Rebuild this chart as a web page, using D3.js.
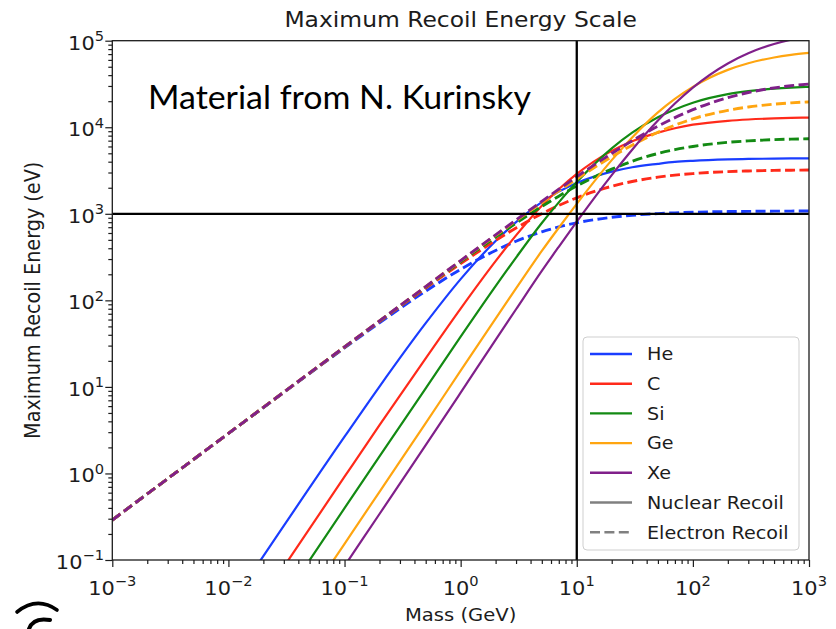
<!DOCTYPE html>
<html>
<head>
<meta charset="utf-8">
<script src="https://cdn.jsdelivr.net/npm/d3@7"></script>
<style>
  body { margin: 0; background: #ffffff; }
  svg { display: block; }
</style>
</head>
<body>
<svg id="chart" width="836" height="629"></svg>
<script>
// Dark-matter mass grid (GeV)
const masses = [0.001, 0.01, 0.1, 0.2, 0.5, 1, 2, 3, 5, 7, 10, 20, 30, 50, 70, 100, 200, 300, 500, 700, 1000];

// Maximum recoil energy (eV): nuclear recoil (solid) and electron recoil (dashed)
const heNuclear  = [2.80e-4, 0.0279, 2.66, 10.1, 54.5, 176, 485, 800, 1362, 1804, 2271, 3071, 3454, 3781, 3974, 4098, 4249, 4301, 4344, 4362, 4376];
const heElectron = [0.29, 2.89, 28.2, 55.0, 127.8, 228.6, 377, 482, 619, 705, 787, 911, 961, 1006, 1026, 1042, 1061, 1067, 1073, 1075, 1077];
const cNuclear   = [9.4e-5, 0.00932, 0.917, 3.61, 21.4, 80.4, 284, 563, 1239, 1923, 2891, 5336, 6883, 8663, 9740, 10702, 11865, 12295, 12656, 12815, 12938];
const cElectron  = [0.29, 2.90, 28.7, 57.0, 138.8, 266, 492, 686, 1002, 1248, 1531, 2080, 2362, 2650, 2796, 2916, 3071, 3126, 3171, 3191, 3206];
const siNuclear  = [4.0e-5, 0.0040, 0.397, 1.575, 9.63, 38.0, 145.8, 312, 783, 1355, 2324, 5699, 8658, 13067, 16058, 19222, 24150, 26120, 27875, 28681, 29310];
const siElectron = [0.29, 2.90, 28.9, 57.6, 142.3, 279, 539, 780, 1217, 1600, 2096, 3283, 4046, 4971, 5510, 5999, 6691, 6958, 7188, 7292, 7371];
const geNuclear  = [1.55e-5, 0.00155, 0.154, 0.614, 3.81, 15.4, 61.6, 137.4, 372, 690, 1302, 4170, 7631, 14884, 21309, 29312, 45992, 54838, 63893, 68474, 72240];
const geElectron = [0.29, 2.90, 29.0, 57.8, 143.9, 286, 563, 833, 1350, 1840, 2526, 4566, 6207, 8752, 10571, 12516, 15678, 17119, 18478, 19129, 19648];
const xeNuclear  = [8.5e-6, 8.5e-4, 0.0852, 0.340, 2.12, 8.58, 34.9, 78.9, 218.9, 415.8, 810.5, 2802, 5505, 11947, 18799, 28709, 54628, 71595, 91585, 102806, 112633];
const xeElectron = [0.29, 2.90, 29.0, 57.9, 144.4, 288, 571, 849, 1393, 1920, 2681, 4985, 6986, 10292, 12911, 15955, 22009, 25196, 28497, 30192, 31602];

const targets = ["He", "C", "Si", "Ge", "Xe"];
const nuclearSeries  = [heNuclear, cNuclear, siNuclear, geNuclear, xeNuclear];
const electronSeries = [heElectron, cElectron, siElectron, geElectron, xeElectron];

// Axis decades and reference lines
const xTickExponents = [-3, -2, -1, 0, 1, 2, 3];
const yTickExponents = [-1, 0, 1, 2, 3, 4, 5];
const referenceMass = 10;      // GeV
const referenceEnergy = 1000;  // eV

const chartTitle = "Maximum Recoil Energy Scale";
const xTitle = "Mass (GeV)";
const yTitle = "Maximum Recoil Energy (eV)";
const overlayNote = "Material from N. Kurinsky";
const legendLabels = ["He", "C", "Si", "Ge", "Xe", "Nuclear Recoil", "Electron Recoil"];

// ---- styling ----
const colors = ["#1a3dff", "#ff2a1a", "#138a13", "#ffa510", "#80208a"];
const textColor = "#1c1c1c";
const FONT = "DejaVu Sans";
const SX = 1.1; // horizontal text stretch

const plot = { left: 112.3, right: 809, top: 40.7, bottom: 560 };

const svg = d3.select("#chart");
svg.append("rect").attr("width", 836).attr("height", 629).attr("fill", "#ffffff");

const x = d3.scaleLog().domain([1e-3, 1e3]).range([plot.left, plot.right]);
const y = d3.scaleLog().domain([1e-1, 1e5]).range([plot.bottom, plot.top]);

function addText(parent, px, py, size, anchor, rotate) {
  return parent.append("text")
    .attr("transform", `translate(${px},${py}) scale(${SX},1)` + (rotate ? ` rotate(${rotate})` : ""))
    .attr("font-family", FONT)
    .attr("font-size", size)
    .attr("text-anchor", anchor)
    .attr("fill", textColor);
}

function powerLabel(t, exp, size) {
  t.append("tspan").text("10");
  t.append("tspan")
    .attr("dy", -size * 0.45)
    .attr("font-size", size * 0.7)
    .text(exp < 0 ? "\u2212" + Math.abs(exp) : String(exp));
}

// clip region for the curves
svg.append("defs").append("clipPath").attr("id", "plotClip")
  .append("rect")
  .attr("x", plot.left).attr("y", plot.top)
  .attr("width", plot.right - plot.left).attr("height", plot.bottom - plot.top);

// ---- curves ----
const line = d3.line()
  .x((d, i) => x(masses[i]))
  .y(d => y(d))
  .curve(d3.curveMonotoneX);

const curves = svg.append("g").attr("clip-path", "url(#plotClip)");
targets.forEach((name, k) => {
  curves.append("path")
    .datum(nuclearSeries[k])
    .attr("d", line)
    .attr("fill", "none")
    .attr("stroke", colors[k])
    .attr("stroke-width", 2.2);
  curves.append("path")
    .datum(electronSeries[k])
    .attr("d", line)
    .attr("fill", "none")
    .attr("stroke", colors[k])
    .attr("stroke-width", 2.9)
    .attr("stroke-dasharray", "10,4.4");
});

// ---- reference lines ----
svg.append("line")
  .attr("x1", plot.left).attr("x2", plot.right)
  .attr("y1", y(referenceEnergy)).attr("y2", y(referenceEnergy))
  .attr("stroke", "#000").attr("stroke-width", 2.3);
svg.append("line")
  .attr("x1", x(referenceMass)).attr("x2", x(referenceMass))
  .attr("y1", plot.top).attr("y2", plot.bottom)
  .attr("stroke", "#000").attr("stroke-width", 2.3);

// ---- axes ----
const xMajor = xTickExponents.map(e => Math.pow(10, e));
const yMajor = yTickExponents.map(e => Math.pow(10, e));
const xMinor = x.ticks().filter(v => !xMajor.some(m => Math.abs(v / m - 1) < 1e-9));
const yMinor = y.ticks().filter(v => !yMajor.some(m => Math.abs(v / m - 1) < 1e-9));

function styleAxis(g) {
  g.select(".domain").remove();
  g.selectAll(".tick line").attr("stroke", "#1c1c1c").attr("stroke-width", 1.2);
}

svg.append("g").attr("transform", `translate(0,${plot.bottom})`)
  .call(d3.axisBottom(x).tickValues(xMajor).tickSize(7).tickFormat(""))
  .call(styleAxis);
svg.append("g").attr("transform", `translate(0,${plot.bottom})`)
  .call(d3.axisBottom(x).tickValues(xMinor).tickSize(4).tickFormat(""))
  .call(styleAxis);
svg.append("g").attr("transform", `translate(${plot.left},0)`)
  .call(d3.axisLeft(y).tickValues(yMajor).tickSize(7).tickFormat(""))
  .call(styleAxis);
svg.append("g").attr("transform", `translate(${plot.left},0)`)
  .call(d3.axisLeft(y).tickValues(yMinor).tickSize(4).tickFormat(""))
  .call(styleAxis);

// frame
svg.append("rect")
  .attr("x", plot.left).attr("y", plot.top)
  .attr("width", plot.right - plot.left).attr("height", plot.bottom - plot.top)
  .attr("fill", "none").attr("stroke", "#1c1c1c").attr("stroke-width", 1.3);

// tick labels
const tickFont = 19;
xTickExponents.forEach(e => {
  powerLabel(addText(svg, x(Math.pow(10, e)), 595, tickFont, "middle"), e, tickFont);
});
yTickExponents.forEach(e => {
  powerLabel(addText(svg, 104, y(Math.pow(10, e)) + 9, tickFont, "end"), e, tickFont);
});

// titles
addText(svg, (plot.left + plot.right) / 2, 26.7, 21.3, "middle").text(chartTitle);
addText(svg, (plot.left + plot.right) / 2, 621, 17.8, "middle").text(xTitle);
addText(svg, 39.5, (plot.top + plot.bottom) / 2, 19.2, "middle", -90).text(yTitle);

// overlay note
svg.append("text")
  .attr("x", 148).attr("y", 109)
  .attr("font-family", "Lato")
  .attr("font-size", 32)
  .attr("fill", "#000")
  .attr("textLength", 383)
  .attr("lengthAdjust", "spacingAndGlyphs")
  .text(overlayNote);

// ---- legend ----
const legend = svg.append("g");
legend.append("rect")
  .attr("x", 583).attr("y", 337).attr("width", 216).attr("height", 213)
  .attr("rx", 4).attr("ry", 4)
  .attr("fill", "#ffffff").attr("fill-opacity", 0.85)
  .attr("stroke", "#cfcfcf").attr("stroke-width", 1);

const legendStyles = colors.map(c => ({ color: c, dash: null }))
  .concat([{ color: "#808080", dash: null }, { color: "#808080", dash: "10,4.4" }]);

legendLabels.forEach((lab, i) => {
  const cy = 354 + i * 29.7;
  const st = legendStyles[i];
  legend.append("line")
    .attr("x1", 590).attr("x2", 632)
    .attr("y1", cy).attr("y2", cy)
    .attr("stroke", st.color)
    .attr("stroke-width", 2.4)
    .attr("stroke-dasharray", st.dash);
  addText(legend, 647, cy + 6.3, 17.4, "start").text(lab);
});

// stray mark at the lower-left corner
const mark = svg.append("g").attr("fill", "none").attr("stroke", "#000").attr("stroke-linecap", "round");
mark.append("path").attr("d", "M17,612 Q37,596 57,610").attr("stroke-width", 3.6);
mark.append("path").attr("d", "M50,620 Q33,617 29,629").attr("stroke-width", 4);
</script>
</body>
</html>
